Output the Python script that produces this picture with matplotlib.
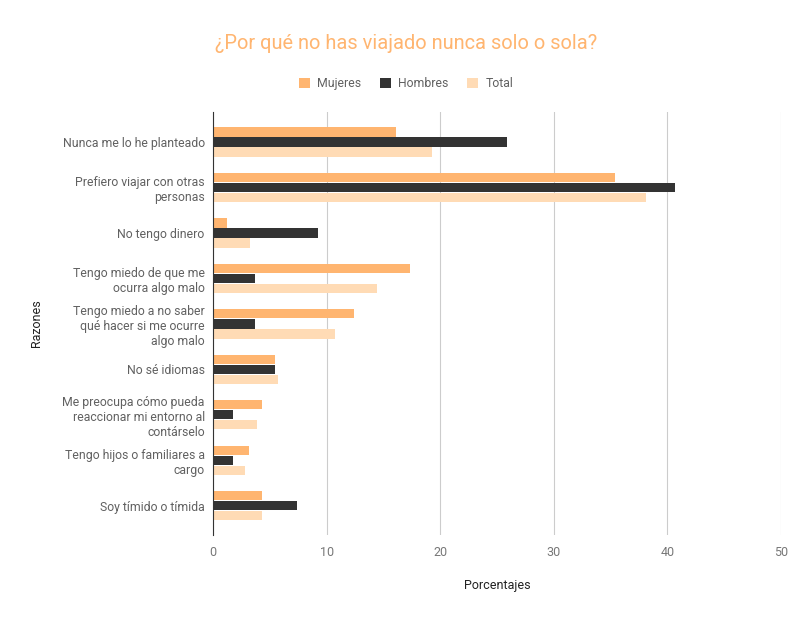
import numpy as np
import matplotlib.pyplot as plt
from matplotlib.patches import Patch

plt.rcParams['font.family'] = ['Roboto', 'DejaVu Sans']

razones = [
    "Nunca me lo he planteado",
    "Prefiero viajar con otras\npersonas",
    "No tengo dinero",
    "Tengo miedo de que me\nocurra algo malo",
    "Tengo miedo a no saber\nqué hacer si me ocurre\nalgo malo",
    "No sé idiomas",
    "Me preocupa cómo pueda\nreaccionar mi entorno al\ncontárselo",
    "Tengo hijos o familiares a\ncargo",
    "Soy tímido o tímida",
]
mujeres = [16.1, 35.4, 1.2, 17.3, 12.4, 5.5, 4.3, 3.2, 4.3]
hombres = [25.9, 40.7, 9.2, 3.7, 3.7, 5.5, 1.8, 1.8, 7.4]
total = [19.3, 38.1, 3.3, 14.4, 10.7, 5.7, 3.9, 2.8, 4.3]
series = ["Mujeres", "Hombres", "Total"]
colores = ["#ffb570", "#333333", "#ffdbb5"]
xticks = [0, 10, 20, 30, 40, 50]

fig = plt.figure(figsize=(8.12, 6.22), dpi=100)
# axes from x=213..781 px, y=112..535 px
ax = fig.add_axes([213 / 812, 1 - 535 / 622, 568 / 812, 423 / 622])

y = np.arange(len(razones))
off = 0.22
h = 0.2
for i, (vals, col) in enumerate(zip([mujeres, hombres, total], colores)):
    ax.barh(y + (i - 1) * off, vals, height=h, color=col, zorder=3)

ax.set_ylim(8.64, -0.66)
ax.set_xlim(0, 50)
ax.set_xticks(xticks)
ax.set_yticks(y)
ax.set_yticklabels(razones, fontsize=8.8, color="#616161")
ax.tick_params(axis='y', length=0, pad=6)
ax.tick_params(axis='x', length=0, pad=8, labelsize=9, labelcolor="#777777")
ax.grid(axis='x', color="#cccccc", linewidth=0.8, zorder=0)
for s in ['top', 'right', 'bottom']:
    ax.spines[s].set_visible(False)
ax.spines['left'].set_color("#333333")
ax.spines['left'].set_zorder(4)

ax.set_xlabel("Porcentajes", fontsize=9, color="#222222", labelpad=14)
ax.set_ylabel("Razones", fontsize=9, color="#222222")
ax.yaxis.set_label_coords(-0.3, 0.5)

fig.text(0.5, 0.93, "¿Por qué no has viajado nunca solo o sola?", ha='center',
         va='center', fontsize=14.4, color="#ffb570")

handles = [Patch(facecolor=c, edgecolor='none') for c in colores]
fig.legend(handles, series, loc='center', bbox_to_anchor=(0.5, 0.866), ncol=3,
           frameon=False, fontsize=8.8, labelcolor="#616161", handlelength=0.9,
           handleheight=0.9, columnspacing=1.5, handletextpad=0.6)

fig.savefig("out.png", dpi=100)
